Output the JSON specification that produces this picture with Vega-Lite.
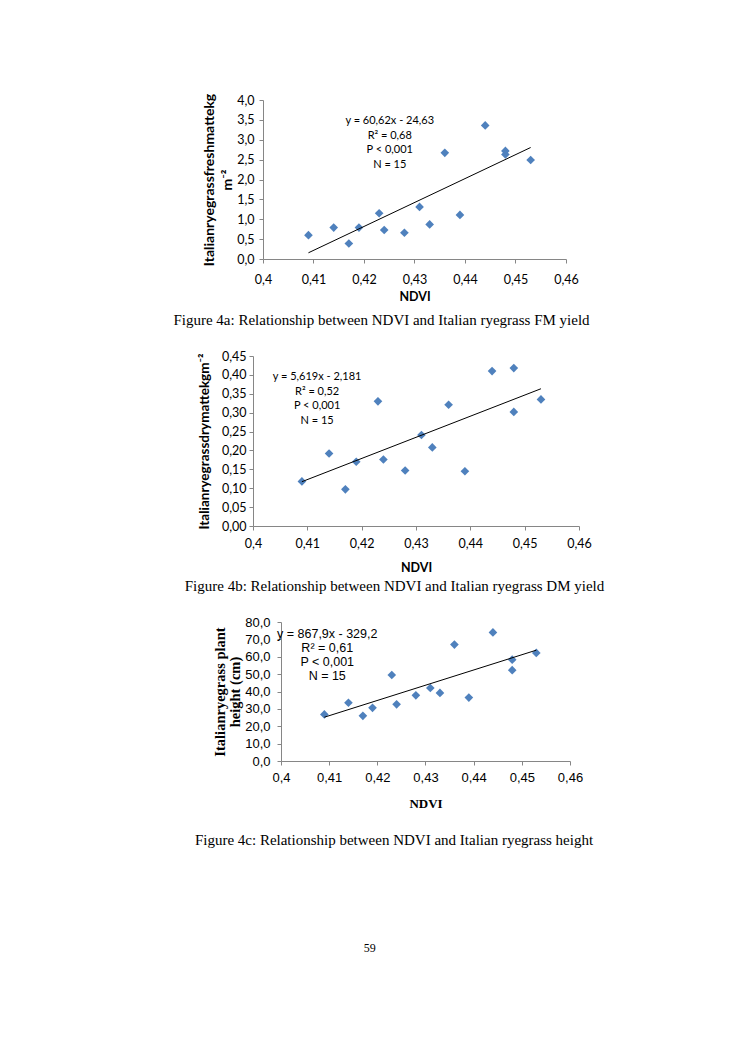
{
  "$schema": "https://vega.github.io/schema/vega-lite/v6.json",
  "background": "white",
  "padding": {"left": 173, "top": 93, "right": 5, "bottom": 5},
  "autosize": {"type": "pad"},
  "config": {
    "view": {"stroke": null},
    "locale": {"number": {"decimal": ",", "thousands": ".", "grouping": [3], "currency": ["", ""]}},
    "axis": {"grid": false, "domainColor": "#868686", "tickColor": "#868686", "tickSize": 4, "labelColor": "#000", "titleColor": "#000", "labelOverlap": false, "labelFlush": false}
  },
  "title": {"text": "59", "orient": "bottom", "font": "Liberation Serif", "fontSize": 12, "fontWeight": "normal", "offset": 95, "anchor": "middle", "dx": -19, "color": "#000"},
  "align": "none",
  "spacing": 22,
  "datasets": {
    "a": [
      {"ndvi": 0.409, "fm": 0.60}, {"ndvi": 0.414, "fm": 0.79}, {"ndvi": 0.417, "fm": 0.39},
      {"ndvi": 0.419, "fm": 0.79}, {"ndvi": 0.423, "fm": 1.15}, {"ndvi": 0.424, "fm": 0.73},
      {"ndvi": 0.428, "fm": 0.66}, {"ndvi": 0.431, "fm": 1.31}, {"ndvi": 0.433, "fm": 0.87},
      {"ndvi": 0.436, "fm": 2.67}, {"ndvi": 0.439, "fm": 1.11}, {"ndvi": 0.444, "fm": 3.36},
      {"ndvi": 0.448, "fm": 2.72}, {"ndvi": 0.448, "fm": 2.63}, {"ndvi": 0.453, "fm": 2.49}
    ],
    "b": [
      {"ndvi": 0.409, "dm": 0.118}, {"ndvi": 0.414, "dm": 0.192}, {"ndvi": 0.417, "dm": 0.097},
      {"ndvi": 0.419, "dm": 0.170}, {"ndvi": 0.423, "dm": 0.330}, {"ndvi": 0.424, "dm": 0.176},
      {"ndvi": 0.428, "dm": 0.147}, {"ndvi": 0.431, "dm": 0.241}, {"ndvi": 0.433, "dm": 0.208},
      {"ndvi": 0.436, "dm": 0.321}, {"ndvi": 0.439, "dm": 0.145}, {"ndvi": 0.444, "dm": 0.410},
      {"ndvi": 0.448, "dm": 0.418}, {"ndvi": 0.448, "dm": 0.302}, {"ndvi": 0.453, "dm": 0.335}
    ],
    "c": [
      {"ndvi": 0.409, "h": 26.8}, {"ndvi": 0.414, "h": 33.5}, {"ndvi": 0.417, "h": 26.0},
      {"ndvi": 0.419, "h": 30.6}, {"ndvi": 0.423, "h": 49.5}, {"ndvi": 0.424, "h": 32.6},
      {"ndvi": 0.428, "h": 37.8}, {"ndvi": 0.431, "h": 42.0}, {"ndvi": 0.433, "h": 39.2},
      {"ndvi": 0.436, "h": 67.0}, {"ndvi": 0.439, "h": 36.5}, {"ndvi": 0.444, "h": 74.0},
      {"ndvi": 0.448, "h": 58.3}, {"ndvi": 0.448, "h": 52.3}, {"ndvi": 0.453, "h": 62.2}
    ]
  },
  "vconcat": [
    {
      "width": 313, "height": 159,
      "title": {"text": "Figure 4a: Relationship between NDVI and Italian ryegrass FM yield", "orient": "bottom", "frame": "group", "font": "Liberation Serif", "fontSize": 15, "fontWeight": "normal", "offset": 10, "dx": -28, "anchor": "middle", "color": "#000"},
      "layer": [
        {
          "data": {"name": "a"},
          "mark": {"type": "point", "shape": "diamond", "filled": true, "color": "#4F81BD", "size": 75, "opacity": 1},
          "encoding": {
            "x": {"field": "ndvi", "type": "quantitative", "scale": {"domain": [0.4, 0.46], "nice": false, "zero": false, "range": [10, 313]},
              "axis": {"title": "NDVI", "titleFont": "Lato", "titleFontWeight": "bold", "titleFontSize": 12.5, "titlePadding": 5, "labelFont": "Lato", "labelFontSize": 12.5, "labelPadding": 10, "labelOverlap": false, "tickCount": 6, "format": ".2~f"}},
            "y": {"field": "fm", "type": "quantitative", "scale": {"domain": [0, 4], "nice": false},
              "axis": {"offset": -10, "title": ["Italianryegrassfreshmattekg", "m⁻²"], "titleFont": "Lato", "titleFontWeight": "bold", "titleFontSize": 14, "titleLineHeight": 18, "titlePadding": 2, "labelFont": "Lato", "labelFontSize": 12.5, "labelPadding": 5, "labelOverlap": false, "tickCount": 8, "format": ".1f"}}
          }
        },
        {
          "data": {"name": "a"},
          "transform": [{"regression": "fm", "on": "ndvi", "extent": [0.409, 0.453]}],
          "mark": {"type": "line", "color": "black", "strokeWidth": 1},
          "encoding": {"x": {"field": "ndvi", "type": "quantitative"}, "y": {"field": "fm", "type": "quantitative"}}
        },
        {
          "data": {"values": [{}]},
          "mark": {"type": "text", "text": ["y = 60,62x - 24,63", "R² = 0,68", "P < 0,001", "N = 15"], "font": "Lato", "fontSize": 11, "baseline": "top", "align": "center", "lineHeight": 14.5, "color": "#000"},
          "encoding": {"x": {"datum": 0.4251, "type": "quantitative"}, "y": {"datum": 3.62, "type": "quantitative"}}
        }
      ]
    },
    {
      "width": 326, "height": 170,
      "title": {"text": "Figure 4b: Relationship between NDVI and Italian ryegrass DM yield", "orient": "bottom", "frame": "group", "font": "Liberation Serif", "fontSize": 15, "fontWeight": "normal", "offset": 5, "dx": -21.5, "anchor": "middle", "color": "#000"},
      "layer": [
        {
          "data": {"name": "b"},
          "mark": {"type": "point", "shape": "diamond", "filled": true, "color": "#4F81BD", "size": 75, "opacity": 1},
          "encoding": {
            "x": {"field": "ndvi", "type": "quantitative", "scale": {"domain": [0.4, 0.46], "nice": false, "zero": false},
              "axis": {"title": "NDVI", "titleFont": "Lato", "titleFontWeight": "bold", "titleFontSize": 12.5, "titlePadding": 12, "labelFont": "Lato", "labelFontSize": 12.5, "labelPadding": 7, "labelOverlap": false, "tickCount": 6, "format": ".2~f"}},
            "y": {"field": "dm", "type": "quantitative", "scale": {"domain": [0, 0.45], "nice": false},
              "axis": {"title": "Italianryegrassdrymattekgm⁻²", "titleFont": "Lato", "titleFontWeight": "bold", "titleFontSize": 13.5, "titlePadding": 10, "labelFont": "Lato", "labelFontSize": 12.5, "labelPadding": 3, "labelOverlap": false, "tickCount": 9, "format": ".2f"}}
          }
        },
        {
          "data": {"name": "b"},
          "transform": [{"regression": "dm", "on": "ndvi", "extent": [0.409, 0.453]}],
          "mark": {"type": "line", "color": "black", "strokeWidth": 1},
          "encoding": {"x": {"field": "ndvi", "type": "quantitative"}, "y": {"field": "dm", "type": "quantitative"}}
        },
        {
          "data": {"values": [{}]},
          "mark": {"type": "text", "text": ["y = 5,619x - 2,181", "R² = 0,52", "P < 0,001", "N = 15"], "font": "Lato", "fontSize": 11, "baseline": "top", "align": "center", "lineHeight": 14.5, "color": "#000"},
          "encoding": {"x": {"datum": 0.4118, "type": "quantitative"}, "y": {"datum": 0.41, "type": "quantitative"}}
        }
      ]
    },
    {
      "width": 317, "height": 139,
      "title": {"text": "Figure 4c: Relationship between NDVI and Italian ryegrass height", "orient": "bottom", "frame": "group", "font": "Liberation Serif", "fontSize": 15, "fontWeight": "normal", "offset": 23, "dx": -17.5, "anchor": "middle", "color": "#000"},
      "layer": [
        {
          "data": {"name": "c"},
          "mark": {"type": "point", "shape": "diamond", "filled": true, "color": "#4F81BD", "size": 75, "opacity": 1},
          "encoding": {
            "x": {"field": "ndvi", "type": "quantitative", "scale": {"domain": [0.4, 0.46], "nice": false, "zero": false, "range": [28, 317]},
              "axis": {"title": "NDVI", "titleFont": "Liberation Serif", "titleFontWeight": "bold", "titleFontSize": 13, "titlePadding": 13, "labelFont": "Liberation Sans", "labelFontSize": 13, "labelPadding": 6, "labelOverlap": false, "tickCount": 6, "format": ".2~f"}},
            "y": {"field": "h", "type": "quantitative", "scale": {"domain": [0, 80], "nice": false},
              "axis": {"offset": -28, "title": ["Italianryegrass plant", "height (cm)"], "titleFont": "Liberation Serif", "titleFontWeight": "bold", "titleFontSize": 14.5, "titleLineHeight": 15, "titlePadding": 2, "labelFont": "Liberation Sans", "labelFontSize": 13, "labelPadding": 7, "labelOverlap": false, "tickCount": 8, "format": ".1f"}}
          }
        },
        {
          "data": {"name": "c"},
          "transform": [{"regression": "h", "on": "ndvi", "extent": [0.409, 0.453]}],
          "mark": {"type": "line", "color": "black", "strokeWidth": 1},
          "encoding": {"x": {"field": "ndvi", "type": "quantitative"}, "y": {"field": "h", "type": "quantitative"}}
        },
        {
          "data": {"values": [{}]},
          "mark": {"type": "text", "text": ["y = 867,9x - 329,2", "R² = 0,61", "P < 0,001", "N = 15"], "font": "Liberation Sans", "fontSize": 12.5, "baseline": "top", "align": "center", "lineHeight": 14, "color": "#000"},
          "encoding": {"x": {"datum": 0.4096, "type": "quantitative"}, "y": {"datum": 76.5, "type": "quantitative"}}
        }
      ]
    }
  ]
}
